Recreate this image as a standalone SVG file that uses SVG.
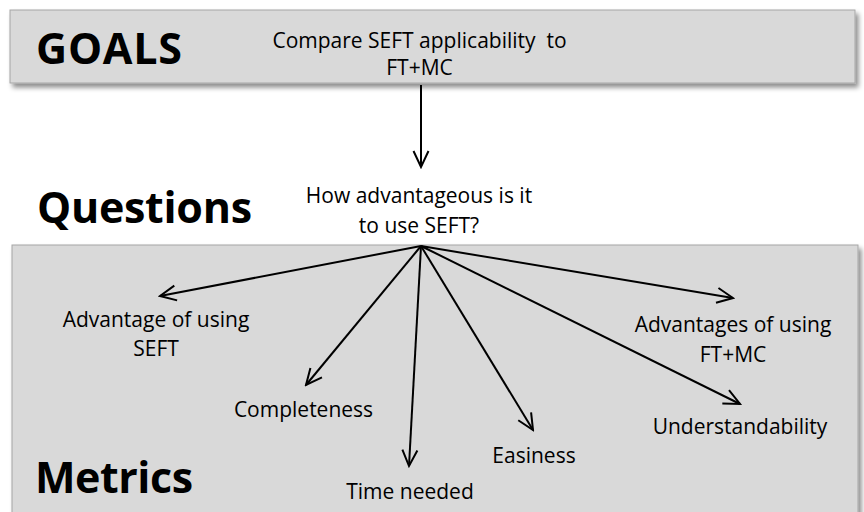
<svg xmlns="http://www.w3.org/2000/svg" width="864" height="512" viewBox="0 0 864 512">
<defs>
<filter id="sh" x="-5%" y="-20%" width="110%" height="150%">
<feDropShadow dx="3" dy="4" stdDeviation="2.5" flood-color="#000" flood-opacity="0.45"/>
</filter>
<marker id="ah" viewBox="0 0 20 20" refX="18" refY="10" markerWidth="20" markerHeight="20" markerUnits="userSpaceOnUse" orient="auto">
<path d="M2,2.5 L18,10 L2,17.5" fill="none" stroke="#000" stroke-width="2"/>
</marker>
<style>
.box{fill:#d9d9d9;stroke:#a6a6a6;stroke-width:1}
.h{font-family:"Open Sans","Liberation Sans",sans-serif;font-weight:bold;font-size:43px;fill:#000}
.t{font-family:"Open Sans","Liberation Sans",sans-serif;font-size:21px;fill:#000;text-anchor:middle}
.c{stroke:#000;stroke-width:2;fill:none;marker-end:url(#ah)}
</style>
</defs>
<rect width="864" height="512" fill="#fff"/>
<g id="goals">
<rect class="box" x="10" y="10" width="845" height="73" filter="url(#sh)"/>
<text class="h" x="36" y="64" textLength="146" lengthAdjust="spacing">GOALS</text>
<text class="t" x="419.5" y="48" xml:space="preserve">Compare SEFT applicability  to</text>
<text class="t" x="419.5" y="75">FT+MC</text>
</g>
<g id="metrics-area">
<rect class="box" x="12" y="245" width="846" height="280" filter="url(#sh)"/>
</g>
<g id="questions">
<text class="h" x="37" y="223" textLength="215" lengthAdjust="spacing">Questions</text>
<text class="t" x="419" y="203">How advantageous is it</text>
<text class="t" x="419" y="233">to use SEFT?</text>
</g>
<g id="metrics-label"><text class="h" x="35" y="493" textLength="158" lengthAdjust="spacing">Metrics</text></g>
<g id="m-adv-seft"><text class="t" x="156" y="327">Advantage of using</text><text class="t" x="156" y="356">SEFT</text></g>
<g id="m-completeness"><text class="t" x="303.5" y="417">Completeness</text></g>
<g id="m-time"><text class="t" x="410" y="499">Time needed</text></g>
<g id="m-easiness"><text class="t" x="534" y="463">Easiness</text></g>
<g id="m-understand"><text class="t" x="740" y="434">Understandability</text></g>
<g id="m-adv-ftmc"><text class="t" x="733" y="332">Advantages of using</text><text class="t" x="733" y="362">FT+MC</text></g>
<g id="connectors">
<line class="c" x1="421" y1="85" x2="421" y2="167"/>
<line class="c" x1="421" y1="246" x2="160" y2="296"/>
<line class="c" x1="421" y1="246" x2="306" y2="385"/>
<line class="c" x1="421" y1="246" x2="409" y2="466"/>
<line class="c" x1="421" y1="246" x2="533" y2="430"/>
<line class="c" x1="421" y1="246" x2="740" y2="404"/>
<line class="c" x1="421" y1="246" x2="733" y2="298"/>
</g>
</svg>
